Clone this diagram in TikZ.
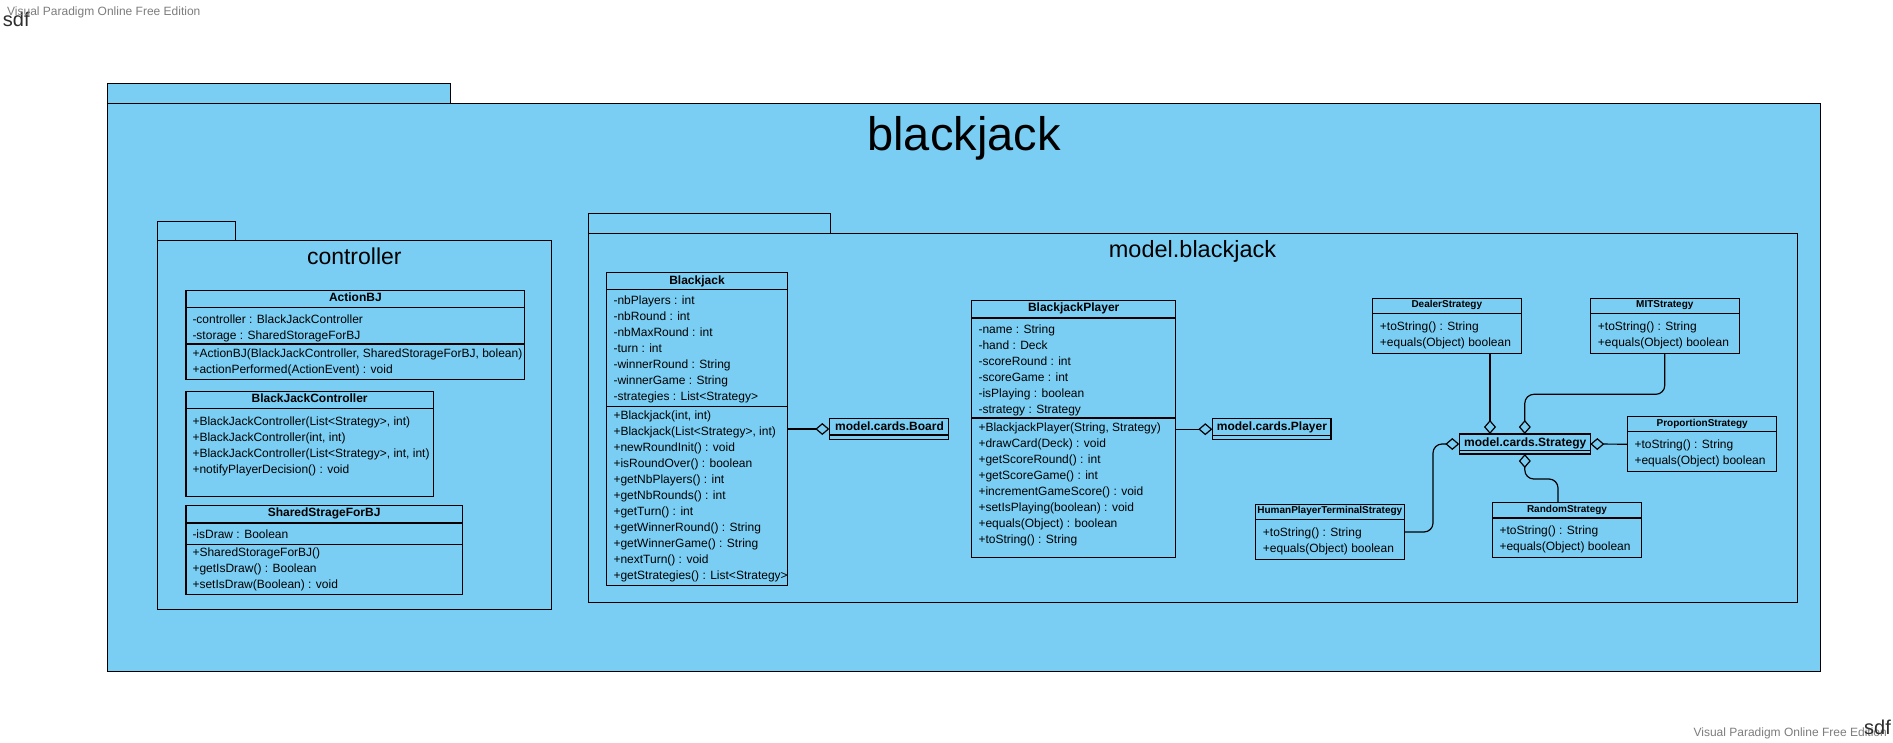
\documentclass[tikz,border=0pt]{standalone}
\usepackage{fontspec}
\setmainfont{Liberation Sans}
\usetikzlibrary{arrows.meta}
\definecolor{pkgblue}{RGB}{122,206,244}
\definecolor{wmgray}{RGB}{125,125,125}
\definecolor{sdfgray}{RGB}{45,45,45}
\tikzset{
  pkg/.style={draw=black, fill=pkgblue, line width=1pt},
  clsbox/.style={draw=black, line width=1.2pt, inner sep=0pt, outer sep=0pt},
  sepline/.style={draw=black, line width=1.2pt},
  txt/.style={anchor=west, inner sep=0pt, font=\fontsize{12}{14}\selectfont, text height=10pt, text depth=2pt},
  cname/.style={inner sep=0pt, font=\bfseries\fontsize{12}{14}\selectfont, text height=10pt, text depth=2pt},
  sname/.style={inner sep=0pt, font=\bfseries\fontsize{10}{12}\selectfont, text height=8pt, text depth=2pt},
  agg/.style={draw=black, line width=1.2pt, -{Diamond[open,length=14pt,width=12pt]}},
}
\newcommand{\umlrect}[6][]{%
  \pgfmathsetmacro{\umlw}{#5-#3}\pgfmathsetmacro{\umlh}{#6-#4}%
  \node[clsbox,#1,minimum width=\umlw pt,minimum height=\umlh pt,anchor=north west] (#2) at (#3,#4) {};%
}
\newcommand{\umlsep}[2]{\draw[sepline] (#1.west |- 0,#2) -- (#1.east |- 0,#2);}
\newcommand{\umltext}[4]{%
  \foreach \ltxt [count=\umlk] in {#4} {%
    \node[txt] (#1-\umlk) at (#2,{#3+16*(\umlk-1)}) {\ltxt};
  }%
}
\begin{document}
\begin{tikzpicture}[x=1pt,y=-1pt]
\useasboundingbox[fill=white] (0,0) rectangle (1893,742);
% packages
\umlrect[pkg]{outertab}{107}{83}{450}{103}
\umlrect[pkg]{outer}{107}{103}{1820.5}{671}
\umlrect[pkg]{ctrltab}{157.5}{221}{235.5}{240}
\umlrect[pkg]{ctrl}{157.5}{240}{551.7}{609.3}
\umlrect[pkg]{modeltab}{588}{213.3}{830.2}{233.3}
\umlrect[pkg]{model}{588}{233.3}{1797.7}{602.5}
\node[font=\fontsize{47}{50}\selectfont, anchor=base, inner sep=0pt] (t-bj) at (964,150) {blackjack};
\node[font=\fontsize{23}{26}\selectfont, anchor=base, inner sep=0pt] (t-ctrl) at (354.3,264) {controller};
\node[font=\fontsize{23.5}{26}\selectfont, anchor=base, inner sep=0pt] (t-model) at (1192.5,257.3) {model.blackjack};
% watermarks
\node[font=\fontsize{20}{22}\selectfont, text=sdfgray, anchor=base west, inner sep=0pt] (sdf1) at (2.7,26.7) {sdf};
\node[font=\fontsize{12}{14}\selectfont, text=wmgray, anchor=base west, inner sep=0pt] (wm1) at (7,15.7) {Visual Paradigm Online Free Edition};
\node[font=\fontsize{12}{14}\selectfont, text=wmgray, anchor=base east, inner sep=0pt] (wm2) at (1887,736) {Visual Paradigm Online Free Edition};
\node[font=\fontsize{20}{22}\selectfont, text=sdfgray, anchor=base east, inner sep=0pt] (sdf2) at (1891,734.5) {sdf};
% ActionBJ
\umlrect{actionbj}{186}{290.7}{524.7}{379.7}
\umlsep{actionbj}{307.7}\umlsep{actionbj}{344}
\node[cname] (actionbj-n) at (actionbj.north |- 0,297.3) {ActionBJ};
\umltext{actionbj-a}{192.3}{319}{{-controller : BlackJackController},{-storage : SharedStorageForBJ}}
\umltext{actionbj-o}{192.3}{353}{{+ActionBJ(BlackJackController, SharedStorageForBJ, bolean)},{+actionPerformed(ActionEvent) : void}}
% BlackJackController
\umlrect{bjc}{186}{391.7}{433.3}{496.7}
\umlsep{bjc}{408.7}
\node[cname] (bjc-n) at (bjc.north |- 0,398.7) {BlackJackController};
\umltext{bjc-o}{192.3}{421.7}{{+BlackJackController(List<Strategy>, int)},{+BlackJackController(int, int)},{+BlackJackController(List<Strategy>, int, int)},{+notifyPlayerDecision() : void}}
% SharedStrageForBJ
\umlrect{ssbj}{186}{505.7}{462.3}{594.7}
\umlsep{ssbj}{523}\umlsep{ssbj}{544.3}
\node[cname] (ssbj-n) at (ssbj.north |- 0,512.7) {SharedStrageForBJ};
\umltext{ssbj-a}{192.3}{534.7}{{-isDraw : Boolean}}
\umltext{ssbj-o}{192.3}{552.7}{{+SharedStorageForBJ()},{+getIsDraw() : Boolean},{+setIsDraw(Boolean) : void}}
% Blackjack
\umlrect{bj}{606.7}{272.7}{787.3}{585.7}
\umlsep{bj}{289.3}\umlsep{bj}{406.3}
\node[cname] (bj-n) at (bj.north |- 0,280) {Blackjack};
\umltext{bj-a}{613.3}{300}{{-nbPlayers : int},{-nbRound : int},{-nbMaxRound : int},{-turn : int},{-winnerRound : String},{-winnerGame : String},{-strategies : List<Strategy>}}
\umltext{bj-o}{613.3}{415}{{+Blackjack(int, int)},{+Blackjack(List<Strategy>, int)},{+newRoundInit() : void},{+isRoundOver() : boolean},{+getNbPlayers() : int},{+getNbRounds() : int},{+getTurn() : int},{+getWinnerRound() : String},{+getWinnerGame() : String},{+nextTurn() : void},{+getStrategies() : List<Strategy>}}
% Board
\umlrect{board}{829.3}{418.7}{948.3}{439.3}
\umlsep{board}{435}
\node[cname, anchor=west] (board-n) at (835,426) {model.cards.Board};
% BlackjackPlayer
\umlrect{bjp}{971.7}{300.7}{1175.7}{557.7}
\umlsep{bjp}{318}\umlsep{bjp}{418}
\node[cname] (bjp-n) at (bjp.north |- 0,307.7) {BlackjackPlayer};
\umltext{bjp-a}{978.3}{329}{{-name : String},{-hand : Deck},{-scoreRound : int},{-scoreGame : int},{-isPlaying : boolean},{-strategy : Strategy}}
\umltext{bjp-o}{978.3}{427}{{+BlackjackPlayer(String, Strategy)},{+drawCard(Deck) : void},{+getScoreRound() : int},{+getScoreGame() : int},{+incrementGameScore() : void},{+setIsPlaying(boolean) : void},{+equals(Object) : boolean},{+toString() : String}}
% Player
\umlrect{player}{1212.3}{418.7}{1331}{439.7}
\umlsep{player}{435.7}
\node[cname, anchor=west] (player-n) at (1216.7,426.7) {model.cards.Player};
% Strategy
\umlrect{strat}{1459.3}{434}{1590.3}{454}
\umlsep{strat}{450.5}
\node[cname, anchor=west] (strat-n) at (1464,442) {model.cards.Strategy};
% DealerStrategy
\umlrect{dealer}{1372.3}{298.7}{1521.3}{353.3}
\umlsep{dealer}{313.7}
\node[sname] (dealer-n) at (dealer.north |- 0,304.7) {DealerStrategy};
\umltext{dealer-o}{1379.7}{326.7}{{+toString() : String},{+equals(Object) boolean}}
% MITStrategy
\umlrect{mit}{1590.3}{298.7}{1739.3}{353.3}
\umlsep{mit}{313.7}
\node[sname] (mit-n) at (mit.north |- 0,304.7) {MITStrategy};
\umltext{mit-o}{1597.7}{326.7}{{+toString() : String},{+equals(Object) boolean}}
% ProportionStrategy
\umlrect{prop}{1627.7}{416.7}{1776.7}{471.7}
\umlsep{prop}{431.7}
\node[sname] (prop-n) at (prop.north |- 0,423) {ProportionStrategy};
\umltext{prop-o}{1634.3}{444.7}{{+toString() : String},{+equals(Object) boolean}}
% RandomStrategy
\umlrect{random}{1492.7}{502.7}{1641.3}{557.7}
\umlsep{random}{518}
\node[sname] (random-n) at (random.north |- 0,509) {RandomStrategy};
\umltext{random-o}{1499.3}{530.7}{{+toString() : String},{+equals(Object) boolean}}
% HumanPlayerTerminalStrategy
\umlrect{human}{1255.3}{504.7}{1404.3}{559.3}
\umlsep{human}{519.7}
\node[sname] (human-n) at (human.north |- 0,510.7) {HumanPlayerTerminalStrategy};
\umltext{human-o}{1262.7}{532.7}{{+toString() : String},{+equals(Object) boolean}}
% connectors
\draw[agg] (bj.east |- board.west) -- (board.west);
\draw[agg] (bjp.east |- player.west) -- (player.west);
\coordinate (sdn) at ([xshift=-34.8pt]strat.north);
\draw[agg] (dealer.south -| sdn) -- (sdn);
\draw[agg, rounded corners=9pt] (mit.south) -- ++(0,41) -| (strat.north);
\draw[agg] (prop.west) -- (strat.east);
\coordinate (rtop) at ([xshift=-9pt]random.north);
\draw[agg, rounded corners=9pt] (rtop) -- ++(0,-23.7) -| (strat.south);
\draw[agg, rounded corners=9pt] (human.east) -- ++(28.7,0) |- (strat.west);
\end{tikzpicture}
\end{document}
